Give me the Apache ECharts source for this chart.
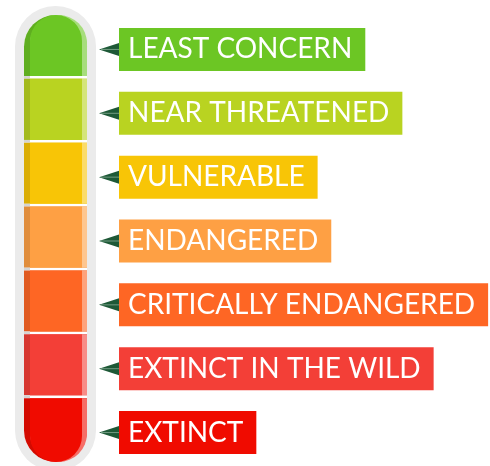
<!DOCTYPE html>
<html>
<head>
<meta charset="utf-8">
<script src="https://cdn.jsdelivr.net/npm/echarts@6/dist/echarts.min.js"></script>
<style>html,body{margin:0;padding:0;background:#fff}#c{width:490px;height:466px}</style>
</head>
<body>
<div id="c"></div>
<script>
// ---- data ----
var categories = ['LEAST CONCERN', 'NEAR THREATENED', 'VULNERABLE', 'ENDANGERED', 'CRITICALLY ENDANGERED', 'EXTINCT IN THE WILD', 'EXTINCT'];
var segmentValues = [1, 1, 1, 1, 1, 1, 1];
// ---- style ----
var palette = ['#6cc624', '#b9d321', '#f8c506', '#fea044', '#fe6624', '#f33f37', '#f00b00'];

function mix(hex, target, t) {
  var n = parseInt(hex.slice(1), 16);
  var r = (n >> 16) & 255, g = (n >> 8) & 255, b = n & 255;
  r = Math.round(r + (target - r) * t);
  g = Math.round(g + (target - g) * t);
  b = Math.round(b + (target - b) * t);
  return 'rgb(' + r + ',' + g + ',' + b + ')';
}

var chart = echarts.init(document.getElementById('c'), null, {renderer: 'canvas'});
var N = categories.length;

var option = {
  animation: false,
  grid: {left: 24, width: 63, top: 15, height: 447},
  xAxis: {type: 'value', min: 0, max: 1, show: false},
  yAxis: {type: 'category', data: categories, inverse: true, show: false},
  series: [
    {
      // capsule background
      type: 'custom',
      z: 1,
      data: [[0, 0]],
      renderItem: function (params, api) {
        var top = api.coord([0, 0]);
        var bot = api.coord([1, N - 1]);
        var bh = api.size([0, 1])[1];
        var x0 = top[0] - 9, x1 = bot[0] + 9;
        var y0 = top[1] - bh / 2 - 9, y1 = bot[1] + bh / 2 + 9;
        var w = x1 - x0;
        return {
          type: 'group',
          children: [
            {type: 'rect', shape: {x: x0, y: y0, width: w, height: y1 - y0, r: w / 2}, style: {fill: '#ebebeb'}},
            {type: 'rect', shape: {x: x0 + 9, y: y0 + 9, width: w - 18, height: y1 - y0 - 18, r: (w - 18) / 2}, style: {fill: '#ffffff'}}
          ]
        };
      }
    },
    {
      // segments
      type: 'custom',
      z: 2,
      data: segmentValues.map(function (v, i) { return [v, i]; }),
      renderItem: function (params, api) {
        var i = api.value(1);
        var c = api.coord([0, i]);
        var e = api.coord([api.value(0), i]);
        var bh = api.size([0, 1])[1];
        var x0 = c[0], x1 = e[0];
        var y0 = c[1] - bh / 2;
        var h = (i === N - 1) ? bh : bh - 2.8;
        var col = palette[i];
        var w = x1 - x0;
        var sd = 6, sl = 5;
        function rr(rad) {
          if (i === 0) return [rad, rad, 0, 0];
          if (i === N - 1) return [0, 0, rad, rad];
          return 0;
        }
        var children = [
          {type: 'rect', shape: {x: x0, y: y0, width: w, height: h, r: rr(w / 2)}, style: {fill: mix(col, 0, 0.12)}},
          {type: 'rect', shape: {x: x0 + sd, y: y0, width: w - sd, height: h, r: rr((w - sd) / 2)}, style: {fill: mix(col, 255, 0.4)}},
          {type: 'rect', shape: {x: x0 + sd, y: y0, width: w - sd - sl, height: h, r: rr((w - sd - sl) / 2)}, style: {fill: col}}
        ];
        if (i < N - 1) {
          children.push({type: 'rect', shape: {x: x0, y: y0 + h, width: sd, height: bh - h}, style: {fill: '#d4d4d4'}});
        }
        return {type: 'group', children: children};
      }
    },
    {
      // labels with pointers
      type: 'custom',
      z: 3,
      data: categories.map(function (c, i) { return [1, i]; }),
      renderItem: function (params, api) {
        var i = api.value(1);
        var p = api.coord([1, i]);
        var cy = p[1] + 2.5;
        var bx = p[0] + 32;
        return {
          type: 'group',
          children: [
            {type: 'polygon', shape: {points: [[bx, cy - 6.5], [bx - 20, cy], [bx, cy + 6.5]]}, style: {fill: '#1e5937'}},
            {type: 'line', shape: {x1: bx - 18, y1: cy, x2: bx, y2: cy}, style: {stroke: 'rgba(170,200,180,0.6)', lineWidth: 1}},
            {type: 'text', x: bx, y: cy, style: {
              text: categories[i], fill: '#ffffff', font: '28px Lato',
              verticalAlign: 'middle', align: 'left',
              backgroundColor: palette[i], lineHeight: 43, padding: [0, 13, 0, 9]
            }}
          ]
        };
      }
    }
  ]
};
chart.setOption(option);
</script>
</body>
</html>
